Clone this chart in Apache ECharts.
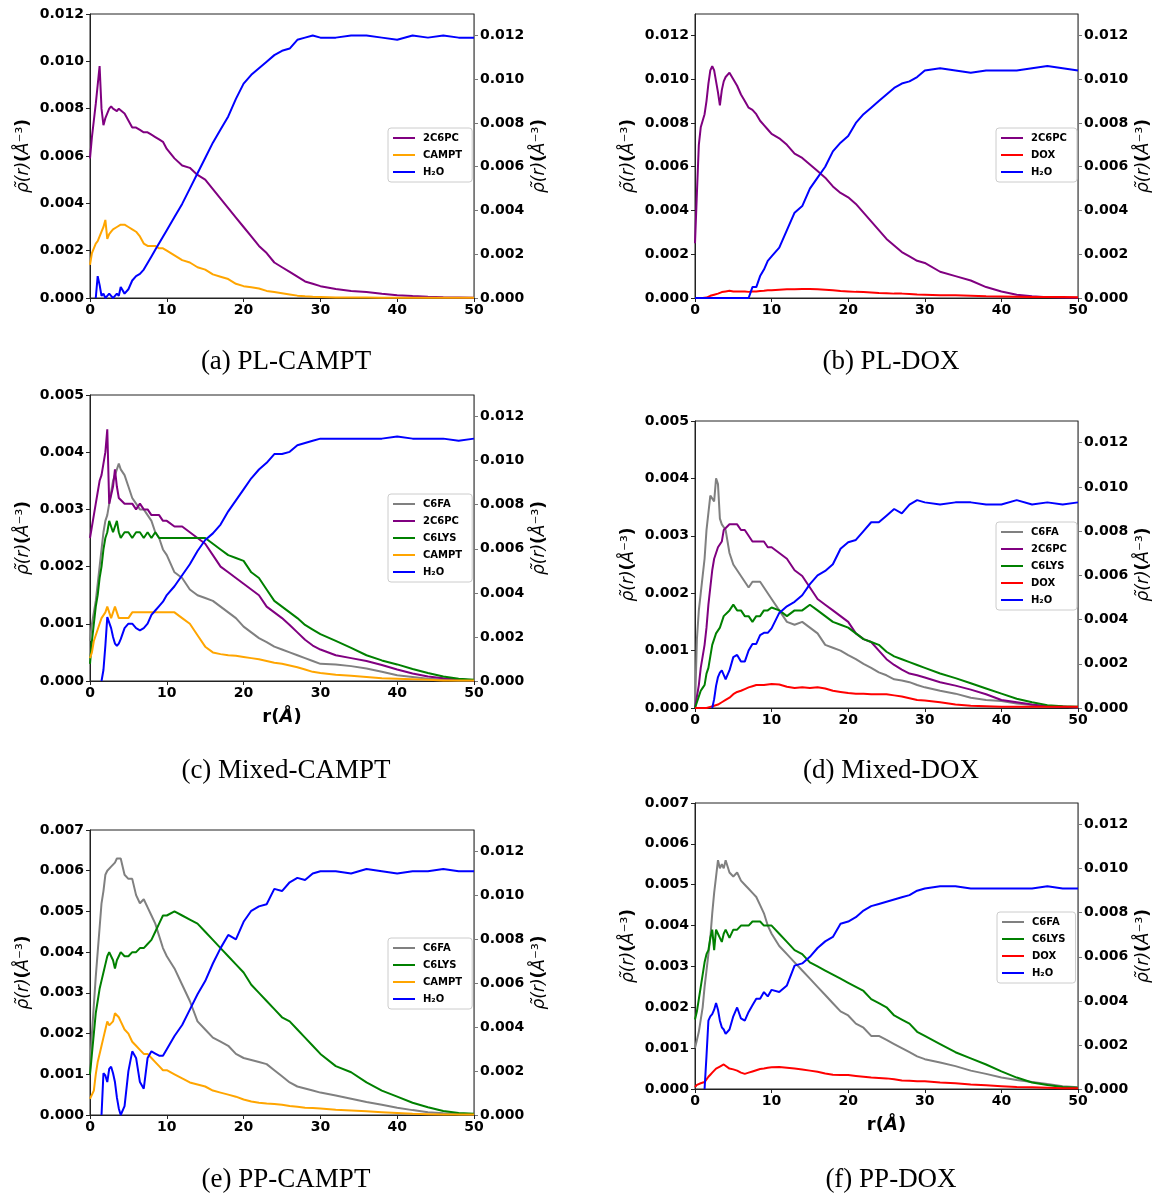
<!DOCTYPE html>
<html><head><meta charset="utf-8">
<script src="https://cdn.jsdelivr.net/npm/echarts@6/dist/echarts.min.js"></script>
<style>html,body{margin:0;padding:0;background:#fff}#c{width:1162px;height:1195px}</style>
</head><body><div id="c"></div>
<script>
// r grid (Å)
const R = [0,0.25,0.5,0.75,1,1.25,1.5,1.75,2,2.25,2.5,2.75,3,3.25,3.5,3.75,4,
  4.5,5,5.5,6,6.5,7,7.5,8,8.5,9,9.5,10,
  11,12,13,14,15,16,17,18,19,20,21,22,23,24,25,26,27,28,29,30,
  32,34,36,38,40,42,44,46,48,50];

// (a) PL-CAMPT
const a_2C6PC = [0.0059,0.0068,0.0075,0.0082,0.0090,0.0098,0.0080,0.0073,0.0076,0.0078,0.0080,0.0081,0.0080,0.0080,0.0079,0.0080,0.0080,
  0.0078,0.0075,0.0072,0.0072,0.0071,0.0070,0.0070,0.0069,0.0068,0.0067,0.0066,0.0063,
  0.0059,0.0056,0.0055,0.0052,0.0050,0.0046,0.0042,0.0038,0.0034,0.0030,0.0026,0.0022,0.0019,0.0015,0.0013,0.0011,0.0009,0.0007,0.0006,0.0005,
  0.00038,0.0003,0.00025,0.00018,0.00012,0.00008,0.00005,0.00003,0.00002,0.00001];
const a_CAMPT = [0.0014,0.0019,0.0021,0.0023,0.0024,0.0026,0.0028,0.0030,0.0033,0.0025,0.0027,0.0028,0.0029,0.0029,0.0030,0.0030,0.0031,
  0.0031,0.0030,0.0029,0.0028,0.0026,0.0023,0.0022,0.0022,0.0022,0.0021,0.0021,0.0020,
  0.0018,0.0016,0.0015,0.0013,0.0012,0.0010,0.0009,0.0008,0.0006,0.0005,0.00045,0.0004,0.0003,0.00025,0.0002,0.00015,0.0001,0.00007,0.00005,0.00004,
  0.00002,0.00002,0.00002,0.00001,0.00001,0.00001,0.00001,0.00001,0.00001,0.00001];
const a_H2O = [null,null,null,0.0000,0.0010,0.0006,0.0001,0.0002,0.0000,0.0001,0.0002,0.0001,0.0000,0.0001,0.0002,0.0001,0.0005,
  0.0002,0.0004,0.0008,0.0010,0.0011,0.0013,0.0016,0.0019,0.0022,0.0025,0.0028,0.0031,
  0.0037,0.0043,0.0050,0.0057,0.0064,0.0071,0.0077,0.0083,0.0091,0.0098,0.0102,0.0105,0.0108,0.0111,0.0113,0.0114,0.0118,0.0119,0.0120,0.0119,
  0.0119,0.0120,0.0120,0.0119,0.0118,0.0120,0.0119,0.0120,0.0119,0.0119];

// (b) PL-DOX
const b_2C6PC = [0.0025,0.0048,0.0070,0.0078,0.0081,0.0084,0.0090,0.0098,0.0104,0.0106,0.0104,0.0099,0.0094,0.0088,0.0095,0.0099,0.0101,
  0.0103,0.0100,0.0097,0.0093,0.0090,0.0087,0.0086,0.0084,0.0081,0.0079,0.0077,0.0075,
  0.0073,0.0070,0.0066,0.0064,0.0061,0.0058,0.0055,0.0051,0.0048,0.0046,0.0043,0.0039,0.0035,0.0031,0.0027,0.0024,0.0021,0.0019,0.0017,0.0016,
  0.0012,0.0010,0.0008,0.0005,0.0003,0.00015,0.00008,0.00004,0.00002,0.00001];
const b_DOX = [0,0,0,0,0,0,0.00002,0.00005,0.0001,0.00013,0.00015,0.00018,0.0002,0.00023,0.00027,0.0003,0.0003,
  0.00033,0.0003,0.0003,0.0003,0.0003,0.00028,0.0003,0.0003,0.00032,0.00033,0.00035,0.00035,
  0.00038,0.0004,0.0004,0.00041,0.00041,0.0004,0.00038,0.00035,0.00032,0.0003,0.00028,0.00027,0.00025,0.00023,0.00022,0.0002,0.0002,0.00018,0.00016,0.00015,
  0.00013,0.00012,0.0001,0.00008,0.00007,0.00006,0.00005,0.00004,0.00004,0.00003];
const b_H2O = [0,0,0,0,0,0,0,0,0,0,0,0,0,0,0,0,0,
  0,0,0,0,0,0,0.0005,0.0005,0.0010,0.0013,0.0017,0.0019,
  0.0023,0.0031,0.0039,0.0042,0.0050,0.0055,0.0060,0.0067,0.0071,0.0074,0.0080,0.0084,0.0087,0.0090,0.0093,0.0096,0.0098,0.0099,0.0101,0.0104,
  0.0105,0.0104,0.0103,0.0104,0.0104,0.0104,0.0105,0.0106,0.0105,0.0104];

// (c) Mixed-CAMPT
const c_C6FA = [0.0007,0.0010,0.0012,0.0014,0.0017,0.0020,0.0023,0.0026,0.0028,0.0029,0.0031,0.0033,0.0035,0.0036,0.0037,0.0038,0.0037,
  0.0036,0.0034,0.0032,0.0031,0.0030,0.0030,0.0029,0.0028,0.0026,0.0025,0.0023,0.0022,
  0.0019,0.0018,0.0016,0.0015,0.00145,0.0014,0.0013,0.0012,0.0011,0.00095,0.00085,0.00075,0.00068,0.0006,0.00055,0.0005,0.00045,0.0004,0.00035,0.0003,
  0.00029,0.00026,0.00022,0.00016,0.0001,0.00007,0.00004,0.00002,0.00001,0.00001];
const c_2C6PC = [0.0025,0.0027,0.0029,0.0031,0.0033,0.0035,0.0036,0.0038,0.0040,0.0044,0.0031,0.0031,0.0034,0.0037,0.0034,0.0032,0.0032,
  0.0031,0.0031,0.0031,0.0030,0.0031,0.0030,0.0030,0.0029,0.0029,0.0029,0.0028,0.0028,
  0.0027,0.0027,0.0026,0.0025,0.0024,0.0022,0.0020,0.0019,0.0018,0.0017,0.0016,0.0015,0.0013,0.0012,0.0011,0.00098,0.00085,0.00072,0.00062,0.00055,
  0.00045,0.0004,0.00035,0.00028,0.0002,0.00013,0.00008,0.00005,0.00003,0.00001];
const c_C6LYS = [0.0003,0.0007,0.0010,0.0013,0.0015,0.0018,0.0020,0.0023,0.0025,0.0026,0.0028,0.0028,0.0026,0.0026,0.0028,0.0026,0.0025,
  0.0026,0.0026,0.0025,0.0026,0.0026,0.0025,0.0026,0.0025,0.0026,0.0025,0.0025,0.0025,
  0.0025,0.0025,0.0025,0.0025,0.0025,0.0024,0.0023,0.0022,0.00215,0.0021,0.0019,0.0018,0.0016,0.0014,0.0013,0.0012,0.0011,0.00098,0.0009,0.00082,
  0.0007,0.00058,0.00045,0.00036,0.00029,0.00021,0.00014,0.00008,0.00004,0.00002];
const c_CAMPT = [0.0004,0.0005,0.0007,0.0008,0.0009,0.0010,0.0011,0.0011,0.0012,0.0013,0.0012,0.0011,0.0012,0.0013,0.0012,0.0011,0.0011,
  0.0011,0.0011,0.0012,0.0012,0.0012,0.0012,0.0012,0.0012,0.0012,0.0012,0.0012,0.0012,
  0.0012,0.0011,0.0010,0.0008,0.0006,0.0005,0.00047,0.00045,0.00044,0.00042,0.0004,0.00038,0.00035,0.00032,0.0003,0.00027,0.00024,0.0002,0.00016,0.00014,
  0.00011,0.00009,0.00007,0.00005,0.00004,0.00003,0.00002,0.00001,0.00001,0.00001];
const c_H2O = [null,null,null,null,null,null,0.0000,0.0005,0.0016,0.0029,0.0029,0.0024,0.0020,0.0017,0.0016,0.0017,0.0019,
  0.0024,0.0026,0.0026,0.0024,0.0023,0.0024,0.0026,0.0030,0.0032,0.0034,0.0036,0.0039,
  0.0043,0.0048,0.0053,0.0059,0.0064,0.0067,0.0071,0.0077,0.0082,0.0087,0.0092,0.0096,0.0099,0.0103,0.0103,0.0104,0.0107,0.0108,0.0109,0.0110,
  0.0110,0.0110,0.0110,0.0110,0.0111,0.0110,0.0110,0.0110,0.0109,0.0110];

// (d) Mixed-DOX
const d_C6FA = [0.0000,0.0012,0.0017,0.0020,0.0023,0.0026,0.0031,0.0034,0.0037,0.0037,0.0036,0.0040,0.0039,0.0033,0.0032,0.0032,0.0031,
  0.0027,0.0025,0.0024,0.0023,0.0022,0.0021,0.0022,0.0022,0.0022,0.0021,0.0020,0.0019,
  0.0017,0.0015,0.00145,0.0015,0.0014,0.0013,0.0011,0.00105,0.0010,0.00092,0.00085,0.00077,0.0007,0.00062,0.00057,0.0005,0.00048,0.00045,0.0004,0.00036,
  0.0003,0.00025,0.00018,0.00014,0.00012,0.00008,0.00005,0.00003,0.00002,0.00001];
const d_2C6PC = [0.0000,0.0002,0.0004,0.0007,0.0009,0.0011,0.0014,0.0018,0.0021,0.0024,0.0026,0.0027,0.0028,0.0028,0.0029,0.0031,0.0031,
  0.0032,0.0032,0.0032,0.0031,0.0031,0.0030,0.0029,0.0029,0.0029,0.0029,0.0028,0.0028,
  0.0027,0.0026,0.0024,0.0023,0.0021,0.0019,0.0018,0.0017,0.0016,0.0015,0.0013,0.0012,0.00115,0.0010,0.00085,0.00075,0.00067,0.0006,0.00057,0.00053,
  0.00045,0.00039,0.00032,0.00024,0.00014,0.0001,0.00006,0.00003,0.00002,0.00001];
const d_C6LYS = [0.0000,0.0001,0.0002,0.0003,0.00035,0.0004,0.0006,0.0007,0.0009,0.0011,0.0012,0.0013,0.0013,0.0014,0.0014,0.0016,0.0016,
  0.0017,0.0018,0.0017,0.0017,0.0016,0.0016,0.0015,0.0016,0.0016,0.0017,0.0017,0.00175,
  0.0017,0.0016,0.0017,0.0017,0.0018,0.0017,0.0016,0.0015,0.00145,0.0014,0.0013,0.0012,0.00115,0.0011,0.00098,0.0009,0.00085,0.0008,0.00075,0.0007,
  0.0006,0.00052,0.00043,0.00034,0.00025,0.00016,0.0001,0.00005,0.00003,0.00002];
const d_DOX = [0,0,0,0,0,0,0,0,0.00002,0.00003,0.00004,0.00005,0.00006,0.00008,0.0001,0.00012,0.00014,
  0.00018,0.00024,0.00028,0.0003,0.00033,0.00036,0.00038,0.0004,0.0004,0.0004,0.00041,0.00042,
  0.00041,0.00037,0.00035,0.00036,0.00035,0.00036,0.00034,0.0003,0.00028,0.00026,0.00025,0.00025,0.00024,0.00024,0.00024,0.00022,0.0002,0.00017,0.00014,0.00013,
  0.0001,0.00006,0.00004,0.00003,0.00002,0.00002,0.00002,0.00002,0.00002,0.00002];
const d_H2O = [null,null,null,null,null,null,null,null,null,0.0000,0.0004,0.0010,0.0014,0.0016,0.0017,0.0015,0.0013,
  0.0017,0.0023,0.0024,0.0021,0.0021,0.0026,0.0029,0.0029,0.0033,0.0034,0.0034,0.0036,
  0.0043,0.0046,0.0048,0.0051,0.0056,0.0060,0.0062,0.0065,0.0072,0.0075,0.0076,0.0080,0.0084,0.0084,0.0087,0.0090,0.0088,0.0092,0.0094,0.0093,
  0.0092,0.0093,0.0093,0.0092,0.0092,0.0094,0.0092,0.0093,0.0092,0.0093];

// (e) PP-CAMPT
const e_C6FA = [0.0011,0.0020,0.0027,0.0034,0.0040,0.0046,0.0052,0.0055,0.0059,0.0060,0.0060,0.0061,0.0061,0.0062,0.0063,0.0063,0.0063,
  0.0059,0.0058,0.0058,0.0054,0.0052,0.0053,0.0051,0.0049,0.0047,0.0044,0.0041,0.0039,
  0.0036,0.0032,0.0028,0.0023,0.0021,0.0019,0.0018,0.0017,0.0015,0.0014,0.00135,0.0013,0.00125,0.0011,0.00095,0.0008,0.0007,0.00065,0.0006,0.00055,
  0.00048,0.0004,0.00032,0.00025,0.00018,0.00012,0.00007,0.00004,0.00002,0.00001];
const e_C6LYS = [0.0010,0.0015,0.0020,0.0025,0.0028,0.0031,0.0033,0.0035,0.0037,0.0039,0.0040,0.0039,0.0038,0.0036,0.0038,0.0039,0.0040,
  0.0039,0.0039,0.0040,0.0040,0.0041,0.0041,0.0042,0.0043,0.0045,0.0047,0.0049,0.0049,
  0.0050,0.0049,0.0048,0.0047,0.0045,0.0043,0.0041,0.0039,0.0037,0.0035,0.0032,0.0030,0.0028,0.0026,0.0024,0.0023,0.0021,0.0019,0.0017,0.0015,
  0.0012,0.00105,0.0008,0.0006,0.00045,0.0003,0.00019,0.0001,0.00005,0.00003];
const e_CAMPT = [0.0004,0.0004,0.0006,0.0010,0.0013,0.0015,0.0017,0.0019,0.0021,0.0023,0.0022,0.0022,0.0023,0.0025,0.0025,0.0024,0.0023,
  0.0021,0.0020,0.0018,0.0017,0.0016,0.0015,0.0015,0.0014,0.0013,0.0012,0.0011,0.0011,
  0.0010,0.0009,0.0008,0.00075,0.0007,0.0006,0.00055,0.0005,0.00045,0.00038,0.00033,0.0003,0.00028,0.00027,0.00025,0.00022,0.0002,0.00018,0.00017,0.00016,
  0.00013,0.00011,0.00009,0.00007,0.00005,0.00003,0.00002,0.00001,0.00001,0.00001];
const e_H2O = [null,null,null,null,null,null,0.0000,0.0019,0.0018,0.0015,0.0021,0.0022,0.0019,0.0015,0.0008,0.0003,0.0000,
  0.0004,0.0020,0.0029,0.0026,0.0015,0.0012,0.0026,0.0029,0.0028,0.0027,0.0027,0.0030,
  0.0036,0.0041,0.0048,0.0055,0.0061,0.0069,0.0076,0.0082,0.0080,0.0088,0.0093,0.0095,0.0096,0.0103,0.0102,0.0106,0.0108,0.0107,0.0110,0.0111,
  0.0111,0.0110,0.0112,0.0111,0.0110,0.0111,0.0111,0.0112,0.0111,0.0111];

// (f) PP-DOX
const f_C6FA = [0.0010,0.0012,0.0014,0.0017,0.0020,0.0025,0.0029,0.0033,0.0037,0.0043,0.0048,0.0052,0.0056,0.0054,0.0055,0.0054,0.0056,
  0.0053,0.0052,0.0053,0.0051,0.0050,0.0049,0.0048,0.0047,0.0045,0.0043,0.0040,0.0038,
  0.0035,0.0033,0.0031,0.0029,0.0027,0.0025,0.0023,0.0021,0.0019,0.0018,0.0016,0.0015,0.0013,0.0013,0.0012,0.0011,0.0010,0.0009,0.0008,0.00073,
  0.00065,0.00056,0.00045,0.00037,0.00028,0.00022,0.00017,0.00012,0.00007,0.00004];
const f_C6LYS = [0.0017,0.0019,0.0022,0.0025,0.0028,0.0031,0.0033,0.0034,0.0037,0.0039,0.0034,0.0039,0.0038,0.0037,0.0036,0.0038,0.0039,
  0.0037,0.0039,0.0039,0.0040,0.0040,0.0040,0.0041,0.0041,0.0041,0.0040,0.0040,0.0040,
  0.0038,0.0036,0.0034,0.0033,0.0031,0.0030,0.0029,0.0028,0.0027,0.0026,0.0025,0.0024,0.0022,0.0021,0.0020,0.0018,0.0017,0.0016,0.0014,0.0013,
  0.0011,0.0009,0.00075,0.0006,0.00043,0.00028,0.00016,0.0001,0.00005,0.00003];
const f_DOX = [0.00005,0.0001,0.00012,0.00014,0.00015,0.00017,0.0002,0.0003,0.00035,0.0004,0.00045,0.0005,0.00052,0.00055,0.00057,0.0006,0.0006,
  0.0005,0.00048,0.00045,0.0004,0.00037,0.0004,0.00043,0.00046,0.00049,0.0005,0.00052,0.00053,
  0.00054,0.00052,0.0005,0.00048,0.00045,0.00042,0.00038,0.00035,0.00034,0.00034,0.00032,0.0003,0.00028,0.00027,0.00026,0.00024,0.00021,0.0002,0.00019,0.00019,
  0.00016,0.00014,0.00011,0.00009,0.00007,0.00005,0.00004,0.00003,0.00002,0.00002];
const f_H2O = [null,null,null,null,null,0.0000,0.0015,0.0031,0.0033,0.0034,0.0036,0.0039,0.0036,0.0031,0.0028,0.0027,0.0025,
  0.0027,0.0033,0.0037,0.0032,0.0031,0.0035,0.0038,0.0041,0.0041,0.0044,0.0042,0.0045,
  0.0044,0.0047,0.0056,0.0057,0.0060,0.0064,0.0067,0.0069,0.0075,0.0076,0.0078,0.0081,0.0083,0.0084,0.0085,0.0086,0.0087,0.0088,0.0090,0.0091,
  0.0092,0.0092,0.0091,0.0091,0.0091,0.0091,0.0091,0.0092,0.0091,0.0091];

const WATER = 'H\u2082O';
const COLORS = {'2C6PC':'#800080','CAMPT':'#FFA500','C6FA':'#808080','C6LYS':'#008000','DOX':'#FF0000'};
COLORS[WATER] = '#0000FF';

const RMAX = 0.01298;
const PANELS = [
  {box:[90,14,384,284], lMax:0.012, lInt:0.002, lShowMax:true, lines:[['2C6PC',a_2C6PC],['CAMPT',a_CAMPT]], water:a_H2O, leg:[388,128], cap:'(a) PL-CAMPT', cx:281, cy:358, xName:false},
  {box:[695,14,383,284], lMax:RMAX, lInt:0.002, lShowMax:false, lines:[['2C6PC',b_2C6PC],['DOX',b_DOX]], water:b_H2O, leg:[996,128], cap:'(b) PL-DOX', cx:886, cy:358, xName:false},
  {box:[90,395,384,286], lMax:0.005, lInt:0.001, lShowMax:true, lines:[['C6FA',c_C6FA],['2C6PC',c_2C6PC],['C6LYS',c_C6LYS],['CAMPT',c_CAMPT]], water:c_H2O, leg:[388,494], cap:'(c) Mixed-CAMPT', cx:281, cy:767, xName:true},
  {box:[695,421,383,287], lMax:0.005, lInt:0.001, lShowMax:true, lines:[['C6FA',d_C6FA],['2C6PC',d_2C6PC],['C6LYS',d_C6LYS],['DOX',d_DOX]], water:d_H2O, leg:[996,522], cap:'(d) Mixed-DOX', cx:886, cy:767, xName:false},
  {box:[90,830,384,285], lMax:0.007, lInt:0.001, lShowMax:true, lines:[['C6FA',e_C6FA],['C6LYS',e_C6LYS],['CAMPT',e_CAMPT]], water:e_H2O, leg:[388,938], cap:'(e) PP-CAMPT', cx:281, cy:1176, xName:false},
  {box:[695,803,383,286], lMax:0.007, lInt:0.001, lShowMax:true, lines:[['C6FA',f_C6FA],['C6LYS',f_C6LYS],['DOX',f_DOX]], water:f_H2O, leg:[997,912], cap:'(f) PP-DOX', cx:886, cy:1176, xName:true}
];

const FONT = 'DejaVu Sans';
const AXC = '#222';
const YNAME = '{i|\u03C1\u0303(r)}{b|(}{i|\u00C5}{s|\u207B\u00B3}{b|)}';
const YRICH = {
  i:{fontFamily:FONT, fontStyle:'italic', fontSize:17, color:'#000'},
  b:{fontFamily:FONT, fontWeight:'bold', fontSize:17, color:'#000'},
  s:{fontFamily:FONT, fontSize:17, color:'#000'}
};
const XNAME = '{b|r(}{i|\u00C5}{b|)}';
const XRICH = {
  b:{fontFamily:FONT, fontWeight:'bold', fontSize:18, color:'#000'},
  i:{fontFamily:FONT, fontWeight:'bold', fontStyle:'italic', fontSize:18, color:'#000'}
};

const grids=[], xAxes=[], yAxes=[], series=[], legends=[], titles=[], warn=[];
const labelStyle = {color:'#000', fontFamily:FONT, fontWeight:'bold', fontSize:14};

PANELS.forEach((p,i)=>{
  grids.push({left:p.box[0], top:p.box[1], width:p.box[2], height:p.box[3], show:true, borderColor:AXC, borderWidth:1, backgroundColor:'transparent'});
  xAxes.push({type:'value', gridIndex:i, min:0, max:50, interval:10,
    axisLine:{show:true, onZero:false, lineStyle:{color:AXC, width:1}},
    axisTick:{show:true, length:4, lineStyle:{color:AXC}},
    axisLabel:Object.assign({margin:5, showMinLabel:true, showMaxLabel:true}, labelStyle),
    splitLine:{show:false},
    name: p.xName ? XNAME : '', nameLocation:'middle', nameGap:27, nameTextStyle:{rich:XRICH}});
  yAxes.push({type:'value', gridIndex:i, position:'left', min:0, max:p.lMax, interval:p.lInt,
    axisLine:{show:true, onZero:false, lineStyle:{color:AXC, width:1}},
    axisTick:{show:true, length:4, lineStyle:{color:AXC}},
    axisLabel:Object.assign({margin:6, showMinLabel:true, showMaxLabel:p.lShowMax, formatter:v=>v.toFixed(3)}, labelStyle),
    splitLine:{show:false},
    name:YNAME, nameLocation:'middle', nameRotate:90, nameGap:58, nameTextStyle:{rich:YRICH}});
  yAxes.push({type:'value', gridIndex:i, position:'right', min:0, max:RMAX, interval:0.002,
    axisLine:{show:true, onZero:false, lineStyle:{color:'#777', width:1}},
    axisTick:{show:true, length:4, lineStyle:{color:'#777'}},
    axisLabel:Object.assign({margin:6, showMinLabel:true, showMaxLabel:false, formatter:v=>v.toFixed(3)}, labelStyle),
    splitLine:{show:false},
    name:YNAME, nameLocation:'middle', nameRotate:90, nameGap:57, nameTextStyle:{rich:YRICH}});
  const names=[];
  p.lines.forEach(([name, arr])=>{
    if (arr.length !== R.length) warn.push(p.cap+' '+name+' len '+arr.length);
    names.push(name);
    series.push({type:'line', name:name, xAxisIndex:i, yAxisIndex:2*i, symbol:'none', showSymbol:false,
      data:R.map((x,k)=>[x, arr[k]]), lineStyle:{color:COLORS[name], width:2}, itemStyle:{color:COLORS[name]},
      animation:false, z:2});
  });
  if (p.water.length !== R.length) warn.push(p.cap+' H2O len '+p.water.length);
  names.push(WATER);
  series.push({type:'line', name:WATER, xAxisIndex:i, yAxisIndex:2*i+1, symbol:'none', showSymbol:false,
    data:R.map((x,k)=>[x, p.water[k]]), lineStyle:{color:COLORS[WATER], width:2}, itemStyle:{color:COLORS[WATER]},
    animation:false, z:3});
  legends.push({orient:'vertical', left:p.leg[0], top:p.leg[1], data:names, selectedMode:false,
    icon:'rect', itemWidth:22, itemHeight:2, itemGap:5, padding:[4,10,4,5],
    borderColor:'#cccccc', borderWidth:1, borderRadius:3, backgroundColor:'rgba(255,255,255,0.85)',
    textStyle:{fontFamily:FONT, fontWeight:'bold', fontSize:10, color:'#000', lineHeight:12, padding:[0,0,0,3]}});
  titles.push({text:p.cap, left:p.cx, top:p.cy-15, textAlign:'center',
    textStyle:{fontFamily:'Liberation Serif', fontWeight:'normal', fontSize:27, color:'#000'}});
});

const chart = echarts.init(document.getElementById('c'), null, {renderer:'canvas'});
const option = {
  backgroundColor:'#ffffff', animation:false,
  title:titles, grid:grids, xAxis:xAxes, yAxis:yAxes, legend:legends, series:series
};
if (warn.length) option.graphic = [{type:'text', left:10, top:10, style:{text:warn.join('\n'), fill:'red', font:'14px sans-serif'}}];
chart.setOption(option);
</script></body></html>
